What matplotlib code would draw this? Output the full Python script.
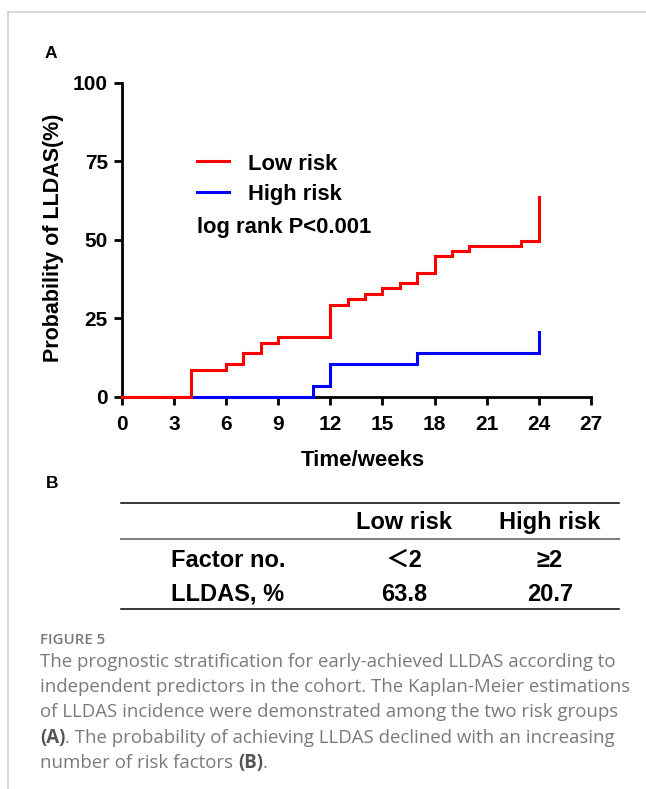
import matplotlib
matplotlib.use("Agg")
import matplotlib.pyplot as plt
from matplotlib.lines import Line2D

# ---- data ----
low_weeks = [0, 4, 6, 7, 8, 9, 12, 13, 14, 15, 16, 17, 18, 19, 20, 23, 24]
low_prob = [0, 8.5, 10.3, 13.8, 17.2, 18.9, 29.2, 31.0, 32.7, 34.5, 36.1, 39.5, 44.8, 46.5, 48.1, 49.7, 63.8]
high_weeks = [0, 11, 12, 17, 24]
high_prob = [0, 3.4, 10.4, 13.8, 20.7]
x_ticks = [0, 3, 6, 9, 12, 15, 18, 21, 24, 27]
y_ticks = [0, 25, 50, 75, 100]
series_names = ["Low risk", "High risk"]
series_colors = ["#FF0000", "#0000FF"]
table_cols = ["Low risk", "High risk"]
table_rows = ["Factor no.", "LLDAS, %"]
factor_no = ["＜2", "≥2"]
lldas_pct = ["63.8", "20.7"]
caption_title = "FIGURE 5"

W, H = 646, 789
fig = plt.figure(figsize=(W / 100, H / 100), dpi=100)
fig.patch.set_facecolor("white")

def fx(px):
    return px / W

def fy(py):
    return 1 - py / H

BOLD = dict(family=["Liberation Sans", "Noto Sans CJK SC", "DejaVu Sans"], weight="bold")

# frame lines (light grey)
fig.add_artist(Line2D([fx(8), fx(646)], [fy(11.5), fy(11.5)], color="#cccccc", lw=1.1))
fig.add_artist(Line2D([fx(8), fx(8)], [fy(11.5), fy(789)], color="#cccccc", lw=1.1))

# ---- panel A ----
x0p, x1p, y0p, y1p = 121.7, 591.0, 396.7, 83.0
ax = fig.add_axes([fx(x0p), fy(y0p), (x1p - x0p) / W, (y0p - y1p) / H])
ax.set_xlim(0, 27)
ax.set_ylim(0, 100)
ax.step(high_weeks, high_prob, where="post", color=series_colors[1], lw=2.2,
        clip_on=False, zorder=4, solid_joinstyle="miter")
ax.step(low_weeks, low_prob, where="post", color=series_colors[0], lw=2.2,
        clip_on=False, zorder=5, solid_joinstyle="miter")
for s in ["top", "right"]:
    ax.spines[s].set_visible(False)
for s in ["left", "bottom"]:
    ax.spines[s].set_linewidth(2.0)
ax.set_xticks(x_ticks)
ax.set_yticks(y_ticks)
ax.tick_params(axis="both", direction="out", length=6, width=2.0, labelsize=15)
ax.tick_params(axis="x", pad=7)
ax.tick_params(axis="y", pad=4)
for lab in ax.get_xticklabels() + ax.get_yticklabels():
    lab.set_fontfamily(["Liberation Sans", "DejaVu Sans"])
    lab.set_fontweight("bold")

fig.text(fx(53.5), fy(238), "Probability of LLDAS(%)", rotation=90, ha="center",
         va="center", fontsize=15.5, **BOLD)
fig.text(fx(362.5), fy(466), "Time/weeks", ha="center", va="baseline", fontsize=16, **BOLD)

# legend
fig.add_artist(Line2D([fx(196.7), fx(229.3)], [fy(160.7), fy(160.7)], color=series_colors[0], lw=2.2))
fig.add_artist(Line2D([fx(196.7), fx(229.3)], [fy(192.3), fy(192.3)], color=series_colors[1], lw=2.2))
fig.text(fx(247.7), fy(170), series_names[0], ha="left", va="baseline", fontsize=15.8, **BOLD)
fig.text(fx(247.7), fy(200), series_names[1], ha="left", va="baseline", fontsize=15.8, **BOLD)
fig.text(fx(196.7), fy(233), "log rank P<0.001", ha="left", va="baseline", fontsize=15.8, **BOLD)

# panel letters
fig.text(fx(51), fy(54), "A", ha="center", va="center", fontsize=12.5, **BOLD)
fig.text(fx(52), fy(484), "B", ha="center", va="center", fontsize=12.5, **BOLD)

# ---- panel B table ----
fig.add_artist(Line2D([fx(121), fx(619)], [fy(503.3), fy(503.3)], color="black", lw=1.1))
fig.add_artist(Line2D([fx(121), fx(619)], [fy(539), fy(539)], color="#808080", lw=1.5))
fig.add_artist(Line2D([fx(121), fx(619)], [fy(609), fy(609)], color="black", lw=1.1))
col_x = [404, 550]
for cx, name in zip(col_x, table_cols):
    fig.text(fx(cx), fy(529), name, ha="center", va="baseline", fontsize=17, **BOLD)
row_y = [567, 601]
for ry, name in zip(row_y, table_rows):
    fig.text(fx(170.7), fy(ry), name, ha="left", va="baseline", fontsize=17, **BOLD)
for cx, v in zip(col_x, factor_no):
    fig.text(fx(cx), fy(row_y[0]), v, ha="center", va="baseline", fontsize=17, **BOLD)
for cx, v in zip(col_x, lldas_pct):
    fig.text(fx(cx), fy(row_y[1]), v, ha="center", va="baseline", fontsize=17, **BOLD)

# ---- caption ----
cap_color = "#7a7a7a"
cap_font = ["Open Sans", "DejaVu Sans"]
fig.text(fx(39.5), fy(644), caption_title, ha="left", va="baseline", fontsize=10.8,
         family=cap_font, weight="semibold", color=cap_color)

renderer = fig.canvas.get_renderer()
lines = [
    "The prognostic stratification for early-achieved LLDAS according to",
    "independent predictors in the cohort. The Kaplan-Meier estimations",
    "of LLDAS incidence were demonstrated among the two risk groups",
]
t0 = fig.text(fx(40), fy(666.7), lines[0], ha="left", va="baseline", fontsize=12,
              family=cap_font, color=cap_color)
w0 = t0.get_window_extent(renderer).width
fs = 12 * 571.0 / w0
t0.set_fontsize(fs)
base = [666.7, 692.0, 717.3, 742.7, 768.0]
for i in (1, 2):
    fig.text(fx(40), fy(base[i]), lines[i], ha="left", va="baseline", fontsize=fs,
             family=cap_font, color=cap_color)

def run(pieces, y):
    xpos = 40.0
    for txt, bold in pieces:
        t = fig.text(fx(xpos), fy(y), txt, ha="left", va="baseline", fontsize=fs,
                     family=cap_font, color="#555555" if bold else cap_color,
                     weight="bold" if bold else "normal")
        xpos += t.get_window_extent(renderer).width

run([("(A)", True), (". The probability of achieving LLDAS declined with an increasing", False)], base[3])
run([("number of risk factors ", False), ("(B)", True), (".", False)], base[4])

fig.savefig("out.png", dpi=100, facecolor="white")
